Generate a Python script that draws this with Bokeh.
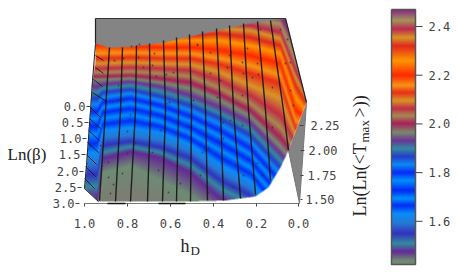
import numpy as np
from bokeh.plotting import figure
from bokeh.embed import file_html
from bokeh.resources import INLINE
from bokeh.core.properties import value

# colour scale of the colour bar
scale_z = [2.47,2.425,2.39,2.355,2.32,2.26,2.199,2.158,2.129,2.096,2.063,2.034,2.002,1.965,1.932,1.899,1.866,1.833,1.80,1.768,1.727,1.694,1.665,1.632,1.591,1.55,1.509,1.476,1.439,1.41]
scale_r = [135,165,190,215,225,255,255,245,235,215,195,165,170,120,110,50,40,10,10,0,0,0,0,10,40,50,50,100,110,125]
scale_g = [35,150,40,150,40,150,40,150,45,150,45,140,30,140,50,140,60,140,40,145,40,145,45,140,120,50,140,40,140,125]
scale_b = [130,90,80,40,30,0,0,20,25,40,70,80,90,110,150,160,200,245,245,255,245,255,245,250,210,190,160,150,115,115]

# surface: screen row at which each level is met, one row list per screen column
levels = [2.466,2.425,2.39,2.355,2.32,2.26,2.199,2.158,2.129,2.096,2.063,2.034,2.002,1.965,1.932,1.899,1.866,1.833,1.80,1.768,1.727,1.694,1.665,1.632,1.591,1.55,1.509,1.476,1.439,1.41]
col_x = [84,97,102,130,160,190,220,250,280,295,307]
col_y = [
 [0,8,15,22,28,36,44,53,58,63,68,72,76,79,86,92,98,104,111,118,126,134,143,152,163,174,186,197,215,235],
 [0,8,15,22,28,36,44,53,58,63,68,72,76,79,86,92,98,104,111,118,126,134,143,152,163,174,186,197,215,235],
 [0,8,15,22,28,36,44,53,58,63,68,72,76,79,84,88,92,97,102,107,112,118,124,130,137,145,152,158,172,200],
 [5,12,18,24,30,38,46,52,57,62,67,71,75,78,81,85,89,93,98,103,108,114,120,127,135,141,146,151,165,195],
 [8,14,20,26,33,41,47,53,58,63,68,73,78,82,86,91,96,100,105,110,115,121,126,132,140,147,152,157,180,205],
 [8,15,22,29,35,40,47,53,58,64,70,76,82,88,95,100,105,110,116,121,127,133,138,144,151,158,165,172,195,215],
 [10,16,22,28,33,40,50,58,64,72,80,88,94,100,107,113,118,124,130,136,143,150,157,164,172,180,188,198,215,230],
 [14,19,25,30,37,45,55,65,73,85,95,103,110,116,122,129,135,141,148,154,160,167,173,180,188,195,203,212,225,240],
 [17,23,32,38,45,53,63,75,83,98,115,127,137,146,153,160,167,174,181,188,195,202,209,216,223,230,237,244,251,258],
 [40,60,70,77,85,97,110,120,127,135,143,150,157,164,170,176,182,188,194,200,206,212,218,224,230,236,242,248,254,260],
 [85,92,97,100,105,112,118,124,130,136,142,148,154,160,166,172,178,184,190,196,202,208,214,220,226,232,238,244,250,256],
]

surf_x = [95,108,130,165,190,250,270,285,306,288,280,268,255,225,190,98,84,86,90,92,95]
surf_y = [43,47,46.5,42,36,23,20,18,102,150,167,187,196,200,201,201,188,165,110,80,60]
under_x = [95,285,285,95]
under_y = [18,18,45,50]
side_x = [306,299,288]
side_y = [102,203,150]

wire_top = [109,122,136,149,163,176,189,202,216,229,243,257,270]
wire_topy = [47,47,45,43,40,37,34,31,28,25,23,21,20]
wire_mid = [105,120,135,150,165,178,191,205,220,233,248,265,283]
wire_bot = [99,115,130,147,162,176,190,207,223,240,255,270,288]
wire_boty = [200,201,201,201,201,201,201,200,200,198,194,180,150]
hatch_x0 = [95,95,93,92,90,89,88,87,86,85,84]
hatch_y0 = [55,67,79,92,107,118,130,142,154,166,178]
hatch_x1 = [103,103,102,106,100,100,99,98,96,95,94]
hatch_y1 = [60,73,86,101,117,128,140,152,164,176,188]
dots_x = [131,139,154,114,123,138,177,197,143,152,156,166,173,118,150,112,118,123,166,169,193,197,210,229,247,260,280,287,242,257,285,290,227,243,258,210,220,252,272,242,290,293,217,205,127,135,127,108,108,122,113,110,152,158,190,168,180,130,100,160,187,202,205,208,223,230,242,217,223,257,262,243,233,208,272,200]
dots_y = [46,44,53,60,58,57,48,44,67,65,76,74,72,85,92,101,100,99,103,102,100,45,52,55,48,29,29,39,62,63,63,62,67,73,74,73,80,77,87,95,90,105,97,87,131,143,153,162,177,173,184,193,152,170,170,192,183,114,145,130,127,152,150,148,122,120,125,140,138,163,175,175,187,192,127,175]

beta_labels = ["0.0","0.5","1.0","1.5","2.0","2.5","3.0"]
beta_lx = [85,83,81,80,78,76,74]
beta_ly = [106,122,138,154,171,187,203]
hd_labels = ["1.0","0.8","0.6","0.4","0.2","0.0"]
hd_lx = [84,127,170,213,256,298]
z_labels = ["2.25","2.00","1.75","1.50"]
z_lx = [310,308,307,305]
z_ly = [125,150,175,199]
bar_ticks = [2.4,2.2,2.0,1.8,1.6]
bar_labels = ["2.4","2.2","2.0","1.8","1.6"]

rev_z = scale_z[::-1]
def colours(z):
    return [np.interp(z, rev_z, c[::-1]) for c in (scale_r, scale_g, scale_b)]

# render the surface
X0, X1, Y0, Y1 = 82, 310, 15, 206
SS = 2
xs = X0 + (np.arange((X1-X0)*SS)+.5)/SS
ys = Y0 + (np.arange((Y1-Y0)*SS)+.5)/SS
col_y_a = np.array(col_y, float)
zf = np.zeros((len(ys), len(xs)))
for i, x in enumerate(xs):
    yk = np.array([np.interp(x, col_x, col_y_a[:, k]) for k in range(len(levels))])
    zf[:, i] = np.interp(ys, yk, np.array(levels))
gx, gy = np.meshgrid(xs, ys)
inside = np.zeros(gx.shape, bool)
px, py = np.array(surf_x, float), np.array(surf_y, float)
for i in range(len(px)):
    x1, y1, x2, y2 = px[i], py[i], px[(i+1) % len(px)], py[(i+1) % len(px)]
    if y1 == y2:
        continue
    cond = ((y1 > gy) != (y2 > gy)) & (gx < (x2-x1)*(gy-y1)/(y2-y1)+x1)
    inside ^= cond
r, g, b = colours(zf)
a = inside.astype(float)
stack = np.stack([r*a, g*a, b*a, a], -1)
h, w = stack.shape[:2]
stack = stack.reshape(h//SS, SS, w//SS, SS, 4).mean((1, 3))
al = np.maximum(stack[..., 3], 1e-4)
img = np.zeros(al.shape, dtype=np.uint32)
view = img.view(np.uint8).reshape(al.shape + (4,))
view[..., 0] = np.clip(stack[..., 0]/al, 0, 255)
view[..., 1] = np.clip(stack[..., 1]/al, 0, 255)
view[..., 2] = np.clip(stack[..., 2]/al, 0, 255)
view[..., 3] = np.clip(stack[..., 3]*255, 0, 255)

# colour bar
BAR_X0, BAR_X1, BAR_Y0, BAR_Y1 = 391, 415, 9, 264
def bar_y(z):
    return 26 + (2.4 - z)*243.5
bar_rows = np.arange(BAR_Y0, BAR_Y1) + .5
bar_z = 2.4 - (bar_rows - 26)/243.5
br, bg, bb = colours(bar_z)
bar_img = np.zeros((len(bar_rows), 1), dtype=np.uint32)
bv = bar_img.view(np.uint8).reshape(len(bar_rows), 1, 4)
bv[..., 0, 0] = br; bv[..., 0, 1] = bg; bv[..., 0, 2] = bb; bv[..., 0, 3] = 255

p = figure(width=457, height=273, x_range=(0, 457), y_range=(273, 0),
           output_backend="svg", toolbar_location=None, min_border=0,
           background_fill_color="white", border_fill_color="white", outline_line_color=None)
p.axis.visible = False
p.grid.visible = False

GREY = "#848484"
p.patch(under_x, under_y, fill_color=GREY, line_color=None)
p.patch(side_x, side_y, fill_color=GREY, line_color=None)
p.image_rgba(image=[img], x=X0, y=Y0, dw=X1-X0, dh=Y1-Y0)

for i in range(len(wire_top)):
    p.line([wire_top[i], wire_mid[i], wire_bot[i]],
           [wire_topy[i], 110 if wire_boty[i] > 110 else wire_boty[i], wire_boty[i]],
           line_color="#151515", line_width=1.4, line_alpha=.9)
p.segment(hatch_x0, hatch_y0, hatch_x1, hatch_y1, line_color="#151515", line_width=1, line_alpha=.85)
p.scatter(dots_x, dots_y, size=1.8, color="#333333", alpha=.75, line_color=None)

# frame lines
p.line([95,95], [18,43], line_color="#222222", line_width=1.2)
p.line([95,285], [18,18], line_color="#333333", line_width=1.2)
p.line([285,306], [18,102], line_color="#222222", line_width=1.3)
p.line([95,92,90,86,84,98], [43,80,110,165,188,201], line_color="#222222", line_width=1)
p.line([306,299,288], [102,203,150], line_color="#777777", line_width=1)
p.line([84,299], [203,203], line_color="#777777", line_width=1.2)
p.line([107,125], [203,203], line_color="#111111", line_width=1.6)
p.line([158,185], [203,203], line_color="#111111", line_width=1.6)

# ticks
p.segment(hd_lx, [203]*6, hd_lx, [206]*6, line_color="#444444", line_width=1)
p.segment([v+1 for v in beta_lx], beta_ly, [v+5 for v in beta_lx], beta_ly, line_color="#444444", line_width=1)
p.segment([299,300,300,300], [v for v in z_ly], [303,304,303,302], z_ly, line_color="#444444", line_width=1)

MONO = value("DejaVu Sans Mono")
LAB = "#444444"
p.text(beta_lx, beta_ly, text=beta_labels, text_align="right", text_baseline="middle", text_font=MONO,
       text_font_size="12px", text_color=LAB)
p.text(hd_lx, [223]*6, text=hd_labels, text_align="center", text_baseline="middle", text_font=MONO,
       text_font_size="12px", text_color=LAB)
p.text(z_lx, z_ly, text=z_labels, text_align="left", text_baseline="middle", text_font=MONO,
       text_font_size="12px", text_color=LAB)

p.image_rgba(image=[bar_img], x=BAR_X0, y=BAR_Y0, dw=BAR_X1-BAR_X0, dh=BAR_Y1-BAR_Y0)
p.line([BAR_X0,BAR_X1,BAR_X1,BAR_X0,BAR_X0], [BAR_Y0,BAR_Y0,BAR_Y1,BAR_Y1,BAR_Y0], line_color="#555555", line_width=1.5)
tick_ys = [bar_y(v) for v in bar_ticks]
p.segment([BAR_X1]*5, tick_ys, [422]*5, tick_ys, line_color="#444444", line_width=1)
p.text([428]*5, tick_ys, text=bar_labels, text_align="left", text_baseline="middle", text_font=MONO,
       text_font_size="12px", text_color=LAB)

SERIF = value("Liberation Serif")
DARK = "#222222"
p.text([7], [154], text=["Ln(β)"], text_baseline="middle", text_font=SERIF, text_font_size="17px", text_color=DARK)
p.text([180], [245], text=["h"], text_baseline="middle", text_font=SERIF, text_font_size="18px", text_color=DARK)
p.text([190], [250], text=["D"], text_baseline="middle", text_font=SERIF, text_font_size="13px", text_color=DARK)
p.text([359], [216], text=["Ln(Ln(<T"], text_align="left", text_baseline="middle", angle=[np.pi/2],
       text_font=SERIF, text_font_size="18px", text_color=DARK)
p.text([364], [142], text=["max"], text_align="left", text_baseline="middle", angle=[np.pi/2],
       text_font=SERIF, text_font_size="13px", text_color=DARK)
p.text([359], [117], text=[">))"], text_align="left", text_baseline="middle", angle=[np.pi/2],
       text_font=SERIF, text_font_size="18px", text_color=DARK)

open("out.html", "w").write(file_html(p, INLINE))
